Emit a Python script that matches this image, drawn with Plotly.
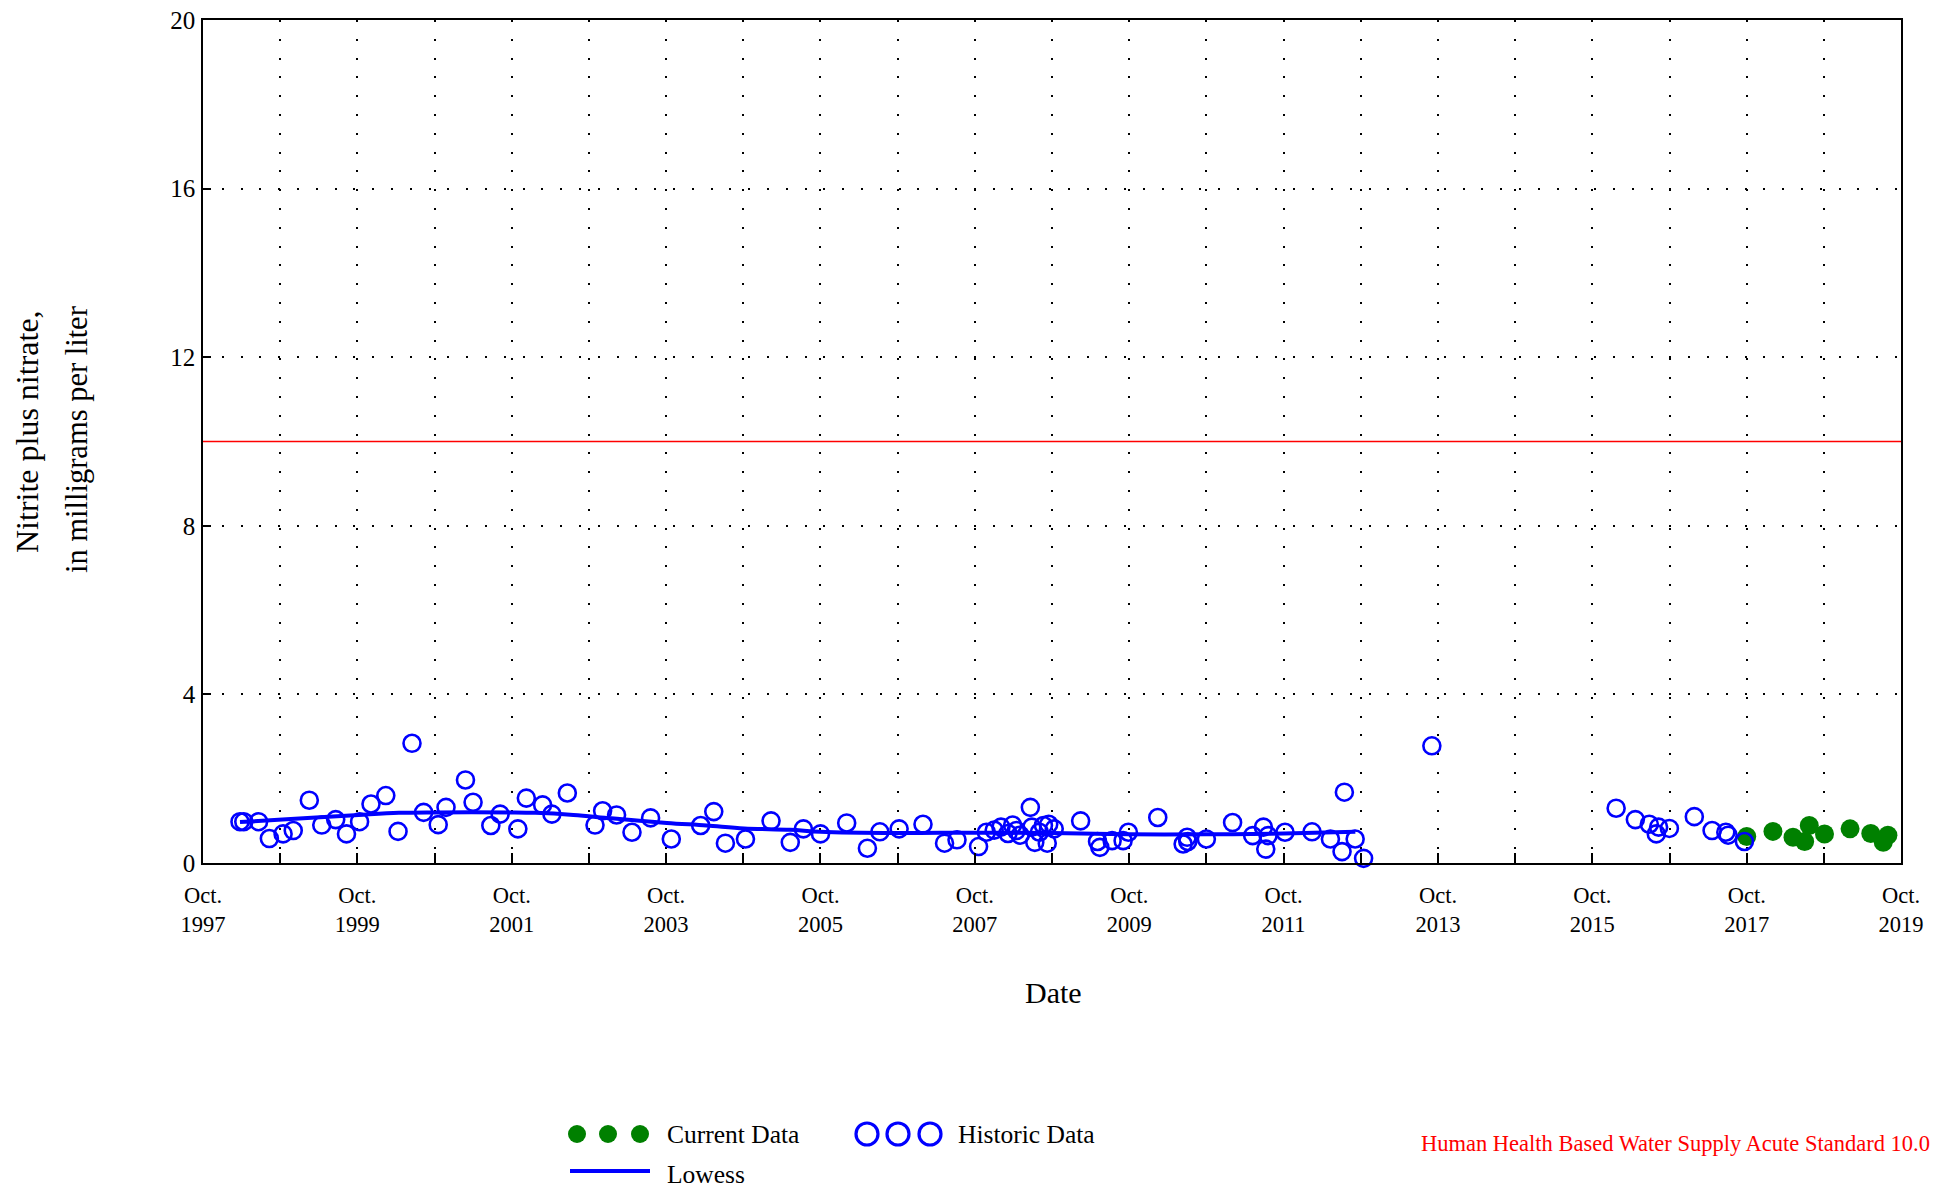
import plotly.graph_objects as go

# ---------------- data ----------------
hist_dates = [
    "1998-03-25", "1998-04-12", "1998-06-21", "1998-08-11", "1998-10-15", "1998-12-02",
    "1999-02-16", "1999-04-16", "1999-06-21", "1999-08-11", "1999-10-12", "1999-12-05",
    "2000-02-13", "2000-04-11", "2000-06-16", "2000-08-10", "2000-10-18", "2000-11-24",
    "2001-02-24", "2001-04-01", "2001-06-24", "2001-08-07", "2001-10-30", "2001-12-09",
    "2002-02-24", "2002-04-09", "2002-06-21", "2002-10-30", "2002-12-05",
    "2003-02-09", "2003-04-23", "2003-07-20", "2003-10-26",
    "2004-03-13", "2004-05-14", "2004-07-08", "2004-10-11",
    "2005-02-09", "2005-05-11", "2005-07-12", "2005-10-01",
    "2006-02-02", "2006-05-11", "2006-07-09", "2006-10-08",
    "2007-01-29", "2007-05-11", "2007-07-09", "2007-10-19", "2007-11-25",
    "2008-01-01", "2008-02-02", "2008-03-06", "2008-03-28", "2008-04-15", "2008-05-03",
    "2008-06-20", "2008-06-27", "2008-07-11", "2008-08-02", "2008-08-21", "2008-09-08",
    "2008-09-15", "2008-10-11",
    "2009-02-13", "2009-05-04", "2009-05-15", "2009-07-12", "2009-09-02", "2009-09-27",
    "2010-02-13", "2010-06-13", "2010-07-02", "2010-07-05", "2010-10-01",
    "2011-02-02", "2011-05-08", "2011-06-28", "2011-07-09", "2011-07-20", "2011-10-08",
    "2012-02-13", "2012-05-10", "2012-07-04", "2012-07-15", "2012-09-04", "2012-10-14",
    "2013-09-02",
    "2016-01-22", "2016-04-22", "2016-06-27", "2016-07-30", "2016-08-10", "2016-09-30",
    "2017-01-26", "2017-04-20", "2017-06-24", "2017-07-05", "2017-09-20",
]
hist_values = [
    0.98, 0.98, 0.98, 0.58, 0.69, 0.77,
    1.49, 0.90, 1.03, 0.69, 0.98, 1.40,
    1.60, 0.75, 2.84, 1.20, 0.91, 1.32,
    1.97, 1.44, 0.89, 1.16, 0.81, 1.54,
    1.38, 1.16, 1.66, 0.90, 1.24,
    1.14, 0.73, 1.07, 0.57,
    0.89, 1.22, 0.47, 0.57,
    1.00, 0.49, 0.81, 0.69,
    0.95, 0.35, 0.74, 0.81,
    0.92, 0.47, 0.55, 0.39, 0.73,
    0.78, 0.85, 0.70, 0.90, 0.77, 0.66,
    1.32, 0.85, 0.49, 0.73, 0.89, 0.47,
    0.92, 0.81,
    1.00, 0.51, 0.37, 0.53, 0.53, 0.73,
    1.08, 0.45, 0.61, 0.51, 0.57,
    0.96, 0.65, 0.85, 0.33, 0.65, 0.73,
    0.74, 0.57, 0.27, 1.68, 0.57, 0.11,
    2.78,
    1.30, 1.03, 0.92, 0.69, 0.85, 0.82,
    1.10, 0.77, 0.73, 0.66, 0.51,
]

curr_dates = [
    "2017-10-01", "2018-02-02", "2018-05-08", "2018-07-02", "2018-07-24",
    "2018-10-04", "2019-02-02", "2019-05-11", "2019-07-09", "2019-07-31",
]
curr_values = [0.63, 0.75, 0.61, 0.51, 0.89, 0.69, 0.81, 0.70, 0.49, 0.66]

lowess_dates = [
    "1998-03-25", "1998-10-12", "1999-10-07", "2000-04-15", "2000-10-04",
    "2001-10-01", "2002-01-20", "2002-07-20", "2003-01-15", "2003-10-05",
    "2004-04-10", "2004-10-05", "2005-05-10", "2005-10-01", "2006-10-01",
    "2007-10-01", "2008-10-01", "2009-10-01", "2010-10-01", "2011-10-01",
    "2012-09-05",
]
lowess_values = [
    0.97, 1.03, 1.14, 1.19, 1.20,
    1.20, 1.19, 1.14, 1.06, 0.95,
    0.89, 0.82, 0.79, 0.74, 0.71,
    0.72, 0.71, 0.68, 0.68, 0.70,
    0.74,
]

standard_value = 10.0
standard_label = "Human Health Based Water Supply Acute Standard 10.0"

tick_years = list(range(1997, 2020))
tick_dates = [f"{y}-10-01" for y in tick_years]
tick_labels = [f"Oct.<br>{y}" if (y - 1997) % 2 == 0 else "" for y in tick_years]
y_ticks = [0, 4, 8, 12, 16, 20]

# ---------------- figure ----------------
FONT = "Liberation Serif, Times New Roman, serif"
OFF = 8                      # page body margin
W, H = 1942 - OFF, 1188 - OFF
L, T = 203 - OFF, 20 - OFF   # plot left / top in figure px
R = W - (1901 - OFF)
B = H - (863 - OFF)
PW, PH = W - L - R, H - T - B


def px(xs):  # screen x -> paper
    return (xs - OFF - L) / PW


def py(ys):  # screen y -> paper
    return (H - B - (ys - OFF)) / PH


fig = go.Figure()

fig.add_trace(go.Scatter(
    x=curr_dates, y=curr_values, mode="markers",
    marker=dict(symbol="circle", size=19, color="#008000", line=dict(width=0)),
    showlegend=False, cliponaxis=False,
))
fig.add_trace(go.Scatter(
    x=hist_dates, y=hist_values, mode="markers",
    marker=dict(symbol="circle-open", size=17, color="#0000ff", line=dict(width=2.6, color="#0000ff")),
    showlegend=False, cliponaxis=False,
))
fig.add_trace(go.Scatter(
    x=lowess_dates, y=lowess_values, mode="lines",
    line=dict(color="#0000ff", width=4, shape="spline"),
    showlegend=False,
))

# standard line
fig.add_shape(type="line", xref="paper", yref="y", x0=0, x1=1,
              y0=standard_value, y1=standard_value,
              line=dict(color="#ff0000", width=1.5), layer="above")

# ---------------- manual legend ----------------
row1 = py(1134)
row2 = py(1171)
for cx in (577, 608, 640):
    fig.add_shape(type="circle", xref="paper", yref="paper",
                  xsizemode="pixel", ysizemode="pixel",
                  xanchor=px(cx), yanchor=row1,
                  x0=-9, x1=9, y0=-9, y1=9,
                  fillcolor="#008000", line=dict(width=0))
for cx in (867, 898, 930):
    fig.add_shape(type="circle", xref="paper", yref="paper",
                  xsizemode="pixel", ysizemode="pixel",
                  xanchor=px(cx), yanchor=row1,
                  x0=-11, x1=11, y0=-11, y1=11,
                  fillcolor="rgba(0,0,0,0)", line=dict(width=3.2, color="#0000ff"))
fig.add_shape(type="line", xref="paper", yref="paper",
              x0=px(570), x1=px(650), y0=row2, y1=row2,
              line=dict(color="#0000ff", width=4))

ann_font = dict(family=FONT, size=25.5, color="black")
fig.add_annotation(x=px(665), y=row1, xref="paper", yref="paper", text="Current Data",
                   showarrow=False, xanchor="left", yanchor="middle", font=ann_font)
fig.add_annotation(x=px(956), y=row1, xref="paper", yref="paper", text="Historic Data",
                   showarrow=False, xanchor="left", yanchor="middle", font=ann_font)
fig.add_annotation(x=px(665), y=py(1174), xref="paper", yref="paper", text="Lowess",
                   showarrow=False, xanchor="left", yanchor="middle", font=ann_font)
fig.add_annotation(x=px(1932), y=py(1143), xref="paper", yref="paper", text=standard_label,
                   showarrow=False, xanchor="right", yanchor="middle",
                   font=dict(family=FONT, size=22.5, color="#ff0000"))

# axis titles
fig.add_annotation(x=px(1053), y=py(992), xref="paper", yref="paper", text="Date",
                   showarrow=False, xanchor="center", yanchor="middle",
                   font=dict(family=FONT, size=30, color="black"))
fig.add_annotation(x=px(27), y=py(432), xref="paper", yref="paper", text="Nitrite plus nitrate,",
                   showarrow=False, xanchor="center", yanchor="middle", textangle=-90,
                   font=dict(family=FONT, size=32, color="black"))
fig.add_annotation(x=px(77), y=py(440), xref="paper", yref="paper", text="in milligrams per liter",
                   showarrow=False, xanchor="center", yanchor="middle", textangle=-90,
                   font=dict(family=FONT, size=30.5, color="black"))

grid_dash = "2px,16.8px"
fig.update_layout(
    width=W, height=H,
    margin=dict(l=L, r=R, t=T, b=B, autoexpand=False),
    paper_bgcolor="white", plot_bgcolor="white",
    font=dict(family=FONT, size=22.5, color="black"),
    showlegend=False,
    xaxis=dict(
        type="date", range=["1997-10-01", "2019-10-01"],
        tickmode="array", tickvals=tick_dates, ticktext=tick_labels,
        ticks="inside", ticklen=10, tickwidth=1.5, tickcolor="black",
        showgrid=True, gridcolor="black", gridwidth=1.5, griddash=grid_dash,
        showline=True, linecolor="black", linewidth=1.5, mirror=True,
        zeroline=False, ticklabelstandoff=11, ticklabeloverflow="allow",
        tickfont=dict(family=FONT, size=22.5, color="black"),
    ),
    yaxis=dict(
        range=[0, 20], tickmode="array", tickvals=y_ticks,
        ticks="inside", ticklen=8, tickwidth=1.5, tickcolor="black",
        showgrid=True, gridcolor="black", gridwidth=1.5, griddash=grid_dash,
        showline=True, linecolor="black", linewidth=1.5, mirror=True,
        zeroline=False, ticklabelstandoff=1, ticklabeloverflow="allow",
        tickfont=dict(family=FONT, size=25, color="black"),
    ),
)

fig.write_html("out.html")
